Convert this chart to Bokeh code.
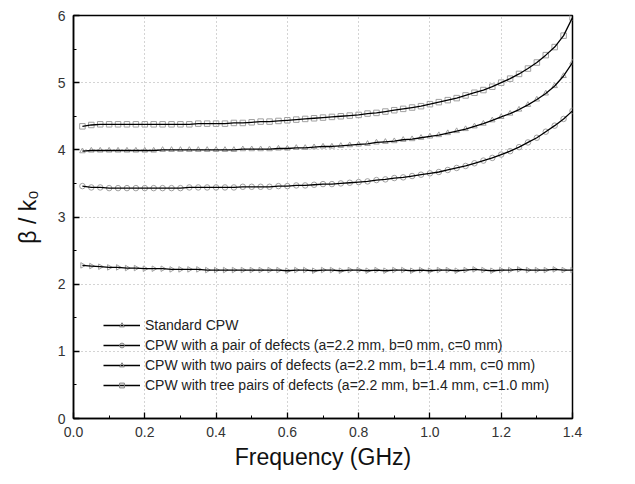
import math
from bokeh.plotting import figure
from bokeh.models import Range1d, Legend, LegendItem, FixedTicker
from bokeh.embed import file_html
from bokeh.resources import INLINE

freq = [0.025, 0.05, 0.075, 0.1, 0.125, 0.15, 0.175, 0.2, 0.225, 0.25,
        0.275, 0.3, 0.325, 0.35, 0.375, 0.4, 0.425, 0.45, 0.475, 0.5,
        0.525, 0.55, 0.575, 0.6, 0.625, 0.65, 0.675, 0.7, 0.725, 0.75,
        0.775, 0.8, 0.825, 0.85, 0.875, 0.9, 0.925, 0.95, 0.975, 1.0,
        1.025, 1.05, 1.075, 1.1, 1.125, 1.15, 1.175, 1.2, 1.225, 1.25,
        1.275, 1.3, 1.325, 1.35, 1.375, 1.4]

standard = [2.28, 2.27, 2.26, 2.25, 2.25, 2.24, 2.24, 2.23, 2.23, 2.23,
            2.22, 2.22, 2.22, 2.22, 2.21, 2.21, 2.21, 2.21, 2.21, 2.21,
            2.21, 2.21, 2.21, 2.20, 2.21, 2.21, 2.20, 2.21, 2.21, 2.20,
            2.21, 2.21, 2.20, 2.21, 2.20, 2.21, 2.21, 2.20, 2.21, 2.20,
            2.21, 2.21, 2.20, 2.21, 2.22, 2.21, 2.20, 2.21, 2.21, 2.22,
            2.21, 2.21, 2.21, 2.22, 2.21, 2.21]

one_pair = [3.46, 3.44, 3.44, 3.43, 3.43, 3.43, 3.43, 3.43, 3.43, 3.43,
            3.43, 3.43, 3.44, 3.44, 3.44, 3.44, 3.44, 3.44, 3.45, 3.45,
            3.45, 3.45, 3.46, 3.46, 3.47, 3.47, 3.48, 3.49, 3.49, 3.50,
            3.51, 3.52, 3.53, 3.55, 3.56, 3.58, 3.59, 3.61, 3.63, 3.65,
            3.67, 3.70, 3.73, 3.76, 3.80, 3.84, 3.88, 3.93, 3.98, 4.04,
            4.11, 4.18, 4.27, 4.36, 4.46, 4.58]

two_pairs = [3.98, 3.99, 3.99, 3.99, 3.99, 3.99, 3.99, 3.99, 3.99, 4.00,
             4.00, 4.00, 4.00, 4.00, 4.00, 4.00, 4.00, 4.00, 4.01, 4.01,
             4.01, 4.01, 4.02, 4.02, 4.03, 4.03, 4.04, 4.05, 4.05, 4.06,
             4.07, 4.08, 4.09, 4.11, 4.12, 4.13, 4.15, 4.16, 4.18, 4.20,
             4.22, 4.25, 4.28, 4.31, 4.35, 4.39, 4.44, 4.49, 4.54, 4.60,
             4.67, 4.75, 4.84, 4.95, 5.10, 5.30]

three_pairs = [4.35, 4.37, 4.38, 4.38, 4.38, 4.38, 4.38, 4.38, 4.38, 4.38,
               4.38, 4.38, 4.38, 4.39, 4.39, 4.39, 4.39, 4.40, 4.40, 4.41,
               4.42, 4.42, 4.43, 4.44, 4.45, 4.46, 4.47, 4.48, 4.49, 4.50,
               4.51, 4.52, 4.54, 4.55, 4.57, 4.59, 4.61, 4.63, 4.65, 4.68,
               4.71, 4.74, 4.77, 4.81, 4.85, 4.89, 4.94, 5.00, 5.06, 5.13,
               5.21, 5.30, 5.41, 5.53, 5.70, 5.97]

labels = ["Standard CPW",
          "CPW with a pair of defects (a=2.2 mm, b=0 mm, c=0 mm)",
          "CPW with two pairs of defects (a=2.2 mm, b=1.4 mm, c=0 mm)",
          "CPW with tree pairs of defects (a=2.2 mm, b=1.4 mm, c=1.0 mm)"]

x_ticks = [0.0, 0.2, 0.4, 0.6, 0.8, 1.0, 1.2, 1.4]
y_ticks = [0, 1, 2, 3, 4, 5, 6]

FONT = "Liberation Sans"

p = figure(width=627, height=476, output_backend="svg", toolbar_location=None,
           x_range=Range1d(0, 1.4), y_range=Range1d(0, 6),
           min_border_left=73, min_border_right=55, min_border_top=15, min_border_bottom=58)
p.outline_line_color = "black"
p.outline_line_width = 1.5

for ax in (p.xaxis[0], p.yaxis[0]):
    ax.axis_line_width = 1.5
    ax.major_tick_in = 6
    ax.major_tick_out = 0
    ax.minor_tick_in = 3
    ax.minor_tick_out = 0
    ax.major_tick_line_width = 1.3
    ax.major_label_text_font = FONT
    ax.major_label_text_font_size = "14px"
    ax.major_label_text_color = "#333333"
    ax.axis_label_text_font = FONT
    ax.axis_label_text_font_size = "23px"
    ax.axis_label_text_font_style = "normal"
    ax.axis_label_text_color = "#111111"

p.xaxis.ticker = FixedTicker(ticks=x_ticks, minor_ticks=[0.1, 0.3, 0.5, 0.7, 0.9, 1.1, 1.3])
p.yaxis.ticker = FixedTicker(ticks=y_ticks, minor_ticks=[0.5, 1.5, 2.5, 3.5, 4.5, 5.5])
p.xaxis.major_label_overrides = {t: f"{t:.1f}" for t in x_ticks}
p.xaxis.major_label_standoff = 8
p.yaxis.major_label_standoff = 8
p.xaxis.axis_label = "Frequency (GHz)"
p.yaxis.axis_label = "β / k₀"
p.xaxis.axis_label_standoff = 4
p.yaxis.axis_label_standoff = 14

p.grid.grid_line_color = "#a8a8a8"
p.grid.grid_line_dash = "1 3"
p.grid.grid_line_width = 1

series = [standard, one_pair, two_pairs, three_pairs]
markers = ["triangle", "circle", "triangle", "square"]
angles = [-math.pi / 2, 0, 0, 0]
items = []
for ys, mk, ang, lab in zip(series, markers, angles, labels):
    p.scatter(freq, ys, marker=mk, angle=ang, size=5.5, fill_color=None,
              line_color="#a0a0a0", line_width=1)
    p.line(freq, ys, line_color="black", line_width=1.3)
    # key-only glyphs: one copy of the series' first point placed off-range,
    # so only the legend shows them
    lg_sc = p.scatter([-freq[0]], [-ys[0]], marker=mk, angle=ang, size=3.5,
                      fill_color=None, line_color="#808080", line_width=1)
    lg_ln = p.line([-freq[0], -freq[1]], [-ys[0], -ys[1]], line_color="black", line_width=1.3)
    items.append(LegendItem(label=lab, renderers=[lg_ln, lg_sc]))

legend = Legend(items=items, location=(30, 23), border_line_color=None,
                background_fill_alpha=0, padding=0, spacing=0, margin=0,
                label_text_font=FONT, label_text_font_size="14px",
                label_text_color="#222222", glyph_width=37, glyph_height=12,
                label_height=20, label_standoff=5)
p.add_layout(legend)

open("out.html", "w").write(file_html(p, INLINE))
